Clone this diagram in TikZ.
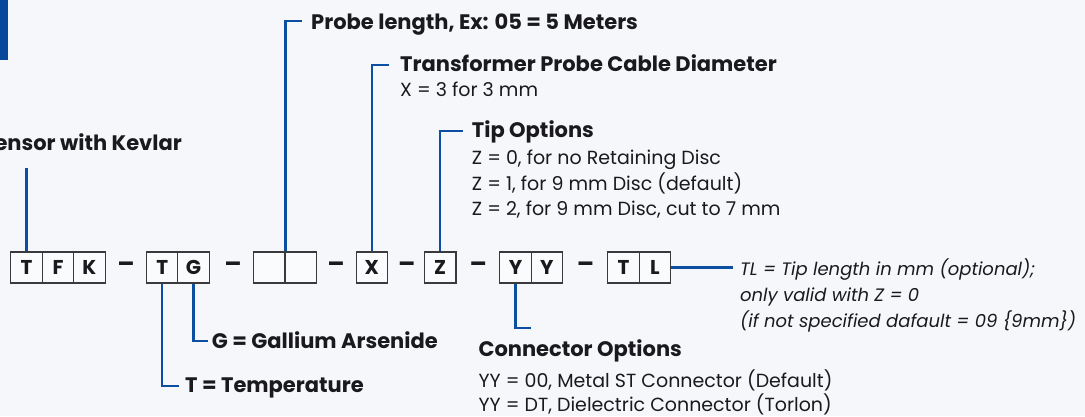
\documentclass[tikz,border=0pt]{standalone}
\usepackage{fontspec}
\setmainfont{Poppins}
\usepackage{tikz}
\usetikzlibrary{calc}
\definecolor{PNBg}{HTML}{F5F7FB}
\definecolor{PNBar}{HTML}{07489A}
\definecolor{PNBlue}{HTML}{0B4EA2}
\definecolor{PNInk}{HTML}{1A1A1E}
\definecolor{PNEdge}{HTML}{3A3A3E}
\definecolor{PNCell}{HTML}{FAFBFD}
\tikzset{
  cell/.style={draw=PNEdge, fill=PNCell, line width=1.1pt, minimum width=31.5pt,
    minimum height=31pt, inner sep=0pt, text=PNInk,
    font=\fontsize{20}{20}\selectfont\bfseries},
  sepdash/.style={text=PNInk, inner sep=0pt, font=\fontsize{25}{25}\selectfont\bfseries},
  lead/.style={draw=PNBlue, line width=2.2pt},
  head/.style={anchor=base west, inner sep=0pt, text=PNInk,
    font=\fontsize{21}{21}\selectfont\bfseries},
  note/.style={anchor=base west, inner sep=0pt, text=PNInk,
    font=\fontsize{19}{19}\selectfont},
  hint/.style={anchor=base west, inner sep=0pt, text=PNInk,
    font=\fontsize{18}{18}\selectfont\itshape},
}
\newcommand{\codecell}[3]{%
  \node[cell] (#1) at (#2,267.5) {#3};
}
\begin{document}
\begin{tikzpicture}[x=1pt,y=-1pt]
  \fill[PNBg] (0,0) rectangle (1085,416);
  \useasboundingbox (0,0) rectangle (1085,416);
  \fill[PNBar] (0,0) rectangle (8,60);

  % code cells
  \codecell{t1}{26.5}{T}
  \codecell{f1}{58}{F}
  \codecell{k1}{89.4}{K}
  \codecell{t2}{162.2}{T}
  \codecell{g2}{193.4}{G}
  \codecell{e1}{269.2}{}
  \codecell{e2}{300.8}{}
  \codecell{xc}{371.8}{X}
  \codecell{zc}{440.2}{Z}
  \codecell{y1}{515.5}{Y}
  \codecell{y2}{546.9}{Y}
  \codecell{l1}{623.5}{T}
  \codecell{l2}{655}{L}
  \node[sepdash] (d1) at (126,267.5) {–};
  \node[sepdash] (d2) at (233,267.5) {–};
  \node[sepdash] (d3) at (336,267.5) {–};
  \node[sepdash] (d4) at (406.7,267.5) {–};
  \node[sepdash] (d5) at (478.3,267.5) {–};
  \node[sepdash] (d6) at (585.5,267.5) {–};

  % labels
  \node[head, anchor=base east] (kevlar) at (182,150) {ensor with Kevlar};
  \node[head] (probe) at (311,29.3) {Probe length, Ex: 05 = 5 Meters};
  \node[head] (xhead) at (400,71.7) {Transformer Probe Cable Diameter};
  \node[note] (xnote) at (400,96) {X = 3 for 3 mm};
  \node[head] (zhead) at (471.7,137.3) {Tip Options};
  \node[note] (znote0) at (471.7,164.3) {Z = 0, for no Retaining Disc};
  \node[note] (znote1) at (471.7,190) {Z = 1, for 9 mm Disc (default)};
  \node[note] (znote2) at (471.7,215.7) {Z = 2, for 9 mm Disc, cut to 7 mm};
  \node[hint] (tlnote0) at (740,275.7) {TL = Tip length in mm (optional);};
  \node[hint] (tlnote1) at (740,301) {only valid with Z = 0};
  \node[hint] (tlnote2) at (740,327.3) {(if not specified dafault = 09 \{9mm\})};
  \node[head] (ghead) at (211.7,348.3) {G = Gallium Arsenide};
  \node[head] (thead) at (185,392.7) {T = Temperature};
  \node[head] (yyhead) at (478.3,356.7) {Connector Options};
  \node[note] (yynote0) at (478.3,387) {YY = 00, Metal ST Connector (Default)};
  \node[note] (yynote1) at (478.3,411.5) {YY = DT, Dielectric Connector (Torlon)};

  % leads
  \coordinate (kevlarfoot) at (26.5,168);
  \coordinate (yyfoot) at (531,328.3);
  \coordinate (tlfoot) at (732.7,267.5);
  \draw[lead] (t1.north) -- (kevlarfoot);
  \draw[lead] (e1.north east) |- ([shift={(-8.7pt,8.6pt)}]probe.base west);
  \draw[lead] (xc.north) |- ([shift={(-11pt,6.7pt)}]xhead.base west);
  \draw[lead] (zc.north) |- ([shift={(-9pt,6.6pt)}]zhead.base west);
  \draw[lead] (g2.south) |- ([shift={(-3.4pt,7.6pt)}]ghead.base west);
  \draw[lead] (t2.south) |- ([shift={(-5.7pt,6.7pt)}]thead.base west);
  \draw[lead] (y1.south) |- (yyfoot);
  \draw[lead] (l2.east) -- (tlfoot);
\end{tikzpicture}
\end{document}
